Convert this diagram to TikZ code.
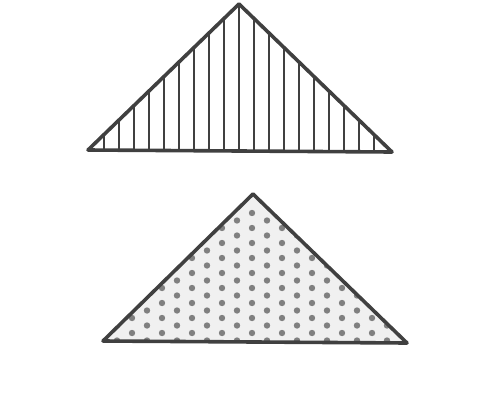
\documentclass[tikz,border=0pt]{standalone}
\begin{document}
\begin{tikzpicture}[x=1pt,y=-1pt,
  outline/.style={draw=black!75,line width=3.6pt,line join=round},
  hatch/.style={draw=black!75,line width=2.8pt},
  dotmark/.style={fill=black!50}]
\useasboundingbox (0,0) rectangle (498,405);
% top triangle
\coordinate (A1) at (88,150);
\coordinate (B1) at (239,4);
\coordinate (C1) at (392,152);
\begin{scope}
\clip (A1) -- (B1) -- (C1) -- cycle;
\foreach \i in {-9,...,10} {
  \draw[hatch] (239+15*\i,0) -- (239+15*\i,160);
}
\end{scope}
\draw[outline] (A1) -- (B1) -- (C1) -- cycle;
% bottom triangle
\coordinate (A2) at (103,341);
\coordinate (B2) at (253,194);
\coordinate (C2) at (407,343);
\fill[black!6] (A2) -- (B2) -- (C2) -- cycle;
\begin{scope}
\clip (A2) -- (B2) -- (C2) -- cycle;
\foreach \i in {-10,...,10} {
  \pgfmathsetmacro{\off}{mod(abs(\i),2)*7.5}
  \foreach \k in {0,...,9} {
    \fill[dotmark] (252+15*\i,213+\off+15*\k) circle (3.2);
  }
}
\end{scope}
\draw[outline] (A2) -- (B2) -- (C2) -- cycle;
\end{tikzpicture}
\end{document}
